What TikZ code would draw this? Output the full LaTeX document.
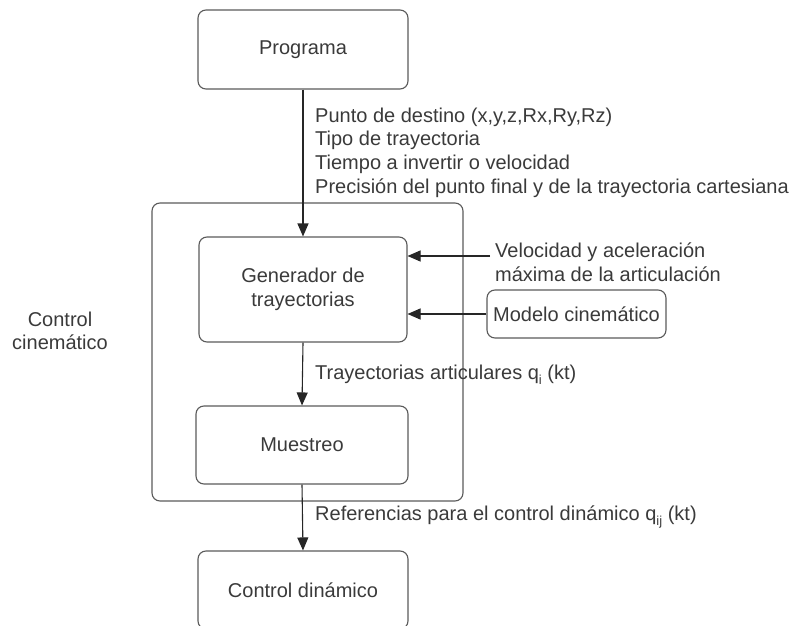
\documentclass[tikz,border=0pt]{standalone}
\usepackage{fontspec}
\setmainfont{Liberation Sans}
\usetikzlibrary{arrows.meta}
\definecolor{txt}{HTML}{3A3A3A}
\definecolor{edge}{HTML}{5A5A5A}
\newcommand\lowidx[1]{\raisebox{-0.45ex}{\fontsize{13}{13}\selectfont #1}}
\begin{document}
\begin{tikzpicture}[x=1pt,y=-1pt,
  font=\fontsize{20}{23.6}\selectfont, text=txt,
  block/.style={draw=edge, line width=1.1pt, rounded corners=8pt, align=center, inner sep=0pt},
  lbl/.style={anchor=west, align=left, inner sep=0pt},
  flow/.style={draw=black!85, line width=1.1pt, -{Triangle[length=13pt,width=11pt]}}]
  \useasboundingbox (0,0) rectangle (793,626);
  \clip (0,0) rectangle (793,626);

  % outer control block
  \node[block, minimum width=311pt, minimum height=298pt] (outer) at (307.5,352) {};
  \node[align=center, inner sep=0pt] (cc) at (60,331) {Control\\cinemático};

  % main blocks
  \node[block, minimum width=210pt, minimum height=79pt] (prog) at (303,49.5) {Programa};
  \node[block, minimum width=208pt, minimum height=105pt] (gen) at (303,289.5) {Generador de\\trayectorias};
  \node[block, minimum width=212pt, minimum height=78pt] (mues) at (302,445) {Muestreo};
  \node[block, minimum width=210pt, minimum height=78pt] (dyn) at (303,590) {Control dinámico};
  \node[block, minimum width=179pt, minimum height=48pt] (modelo) at (576.5,314) {Modelo cinemático};

  % connectors
  \draw[flow] (prog.south) -- (gen.north);
  \draw[flow] (gen.south) -- (mues.north);
  \draw[flow] (mues.south) -- (dyn.north);
  \coordinate (vel) at (490,256);
  \draw[flow] (vel) -- (gen.east |- vel);
  \draw[flow] (modelo.west) -- (gen.east |- modelo.west);

  % labels
  \node[lbl] (l1) at (315,152.5) {Punto de destino (x,y,z,Rx,Ry,Rz)\\Tipo de trayectoria\\Tiempo a invertir o velocidad\\Precisión del punto final y de la trayectoria cartesiana};
  \node[lbl] (l2) at (495,262) {Velocidad y aceleración\\máxima de la articulación};
  \node[lbl] (l3) at (315,375) {Trayectorias articulares q\lowidx{i} (kt)};
  \node[lbl] (l4) at (315,517) {Referencias para el control dinámico q\lowidx{ij} (kt)};
\end{tikzpicture}
\end{document}
